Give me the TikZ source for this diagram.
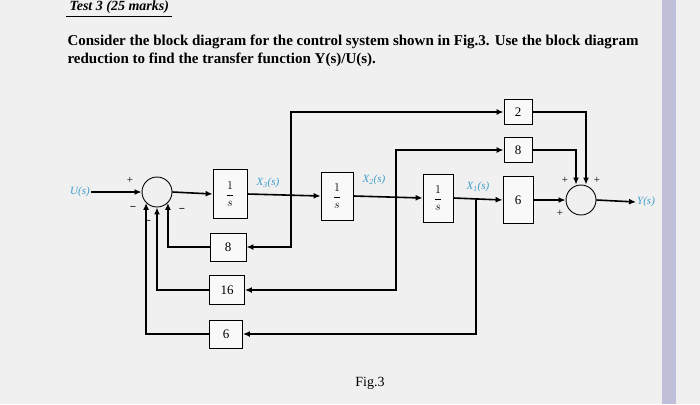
\documentclass[tikz,border=0pt]{standalone}
\usepackage{fontspec}
\setmainfont{Liberation Serif}
\usetikzlibrary{arrows.meta}
\definecolor{lab}{HTML}{3C9CC8}
\begin{document}
\begin{tikzpicture}[x=1pt,y=-1pt,
  blk/.style={draw,line width=0.8pt,fill=white!95!gray,minimum width=#1,inner sep=0pt,font=\fontsize{13}{14}\selectfont},
  sig/.style={line width=1.6pt,-{Latex[length=7pt,width=6pt]}},
  sum/.style={draw,circle,line width=0.9pt,minimum size=30pt,inner sep=0pt},
  lab/.style={text=lab,font=\itshape\fontsize{11}{12}\selectfont,inner sep=1pt},
  sg/.style={font=\fontsize{11}{12}\selectfont,inner sep=0pt}]
\fill[gray!12] (0,0) rectangle (700,404);
\fill[blue!25!gray!40] (662,0) rectangle (676,404);
\useasboundingbox (0,0) rectangle (700,404);
% header
\node[anchor=west,font=\bfseries\itshape\fontsize{14}{15}\selectfont] (hd) at (66,7) {Test 3 (25 marks)};
\draw[line width=0.8pt] (hd.south west) -- (hd.south east);
\node[anchor=west,font=\bfseries\fontsize{15}{17}\selectfont] (t1) at (64,42) {Consider the block diagram for the control system shown in Fig.3. Use the block diagram};
\node[anchor=west,font=\bfseries\fontsize{15}{17}\selectfont] (t2) at (64,60) {reduction to find the transfer function Y(s)/U(s).};
% nodes
\node[lab] (u) at (80,192) {U(s)};
\node[sum] (s1) at (157,192) {};
\node[blk=34pt,minimum height=49pt] (i1) at (230,194) {$\displaystyle\frac{1}{s}$};
\node[blk=32pt,minimum height=48pt] (i2) at (337,196) {$\displaystyle\frac{1}{s}$};
\node[blk=30pt,minimum height=48pt] (i3) at (438,198) {$\displaystyle\frac{1}{s}$};
\node[blk=30pt,minimum height=47pt] (g6) at (518,200) {6};
\node[blk=28pt,minimum height=25pt] (g2) at (518,112) {2};
\node[blk=28pt,minimum height=25pt] (g8) at (518,150) {8};
\node[sum] (s2) at (581,200) {};
\node[lab,anchor=west] (y) at (636,202) {Y(s)};
\node[blk=36pt,minimum height=28pt] (f8) at (228,247) {8};
\node[blk=35pt,minimum height=29pt] (f16) at (227,290) {16};
\node[blk=33pt,minimum height=28pt] (f6) at (226,334) {6};
\node[lab] (x3) at (268,183) {X\textsubscript{3}(s)};
\node[lab] (x2) at (374,180) {X\textsubscript{2}(s)};
\node[lab] (x1) at (478,187) {X\textsubscript{1}(s)};
\coordinate (b3) at (291,194);
\coordinate (b2) at (396,196);
\coordinate (b1) at (476,198);
% signs
\node[sg] at (130,180) {+};
\node[sg] at (133,208) {\textbf{−}};
\node[sg] at (148,222) {\textbf{−}};
\node[sg] at (182,210) {\textbf{−}};
\node[sg] at (565,180) {+};
\node[sg] at (597,180) {+};
\node[sg] at (560,213) {+};
\node[font=\fontsize{14}{15}\selectfont] (fig) at (370,383) {Fig.3};
% forward path
\draw[sig] (u.east) -- (s1.west);
\draw[sig] (s1.east) -- (i1.west);
\draw[sig] (i1.east) -- (i2.west);
\draw[sig] (i2.east) -- (i3.west);
\draw[sig] (i3.east) -- (g6.west);
\draw[sig] (g6.east) -- (s2.west);
\draw[sig] (s2.east) -- (y.west);
% feedforward
\draw[sig] (b3) |- (g2.west);
\draw[sig] (b2) |- (g8.west);
\draw[sig] (g2.east) -| ([xshift=5pt]s2.north);
\draw[sig] (g8.east) -| ([xshift=-5pt]s2.north);
% feedback
\draw[sig] (b3) |- (f8.east);
\draw[sig] (b2) |- (f16.east);
\draw[sig] (b1) |- (f6.east);
\draw[sig] (f8.west) -| (s1.south east);
\draw[sig] (f16.west) -| (s1.south);
\draw[sig] (f6.west) -| (s1.south west);
\end{tikzpicture}
\end{document}
